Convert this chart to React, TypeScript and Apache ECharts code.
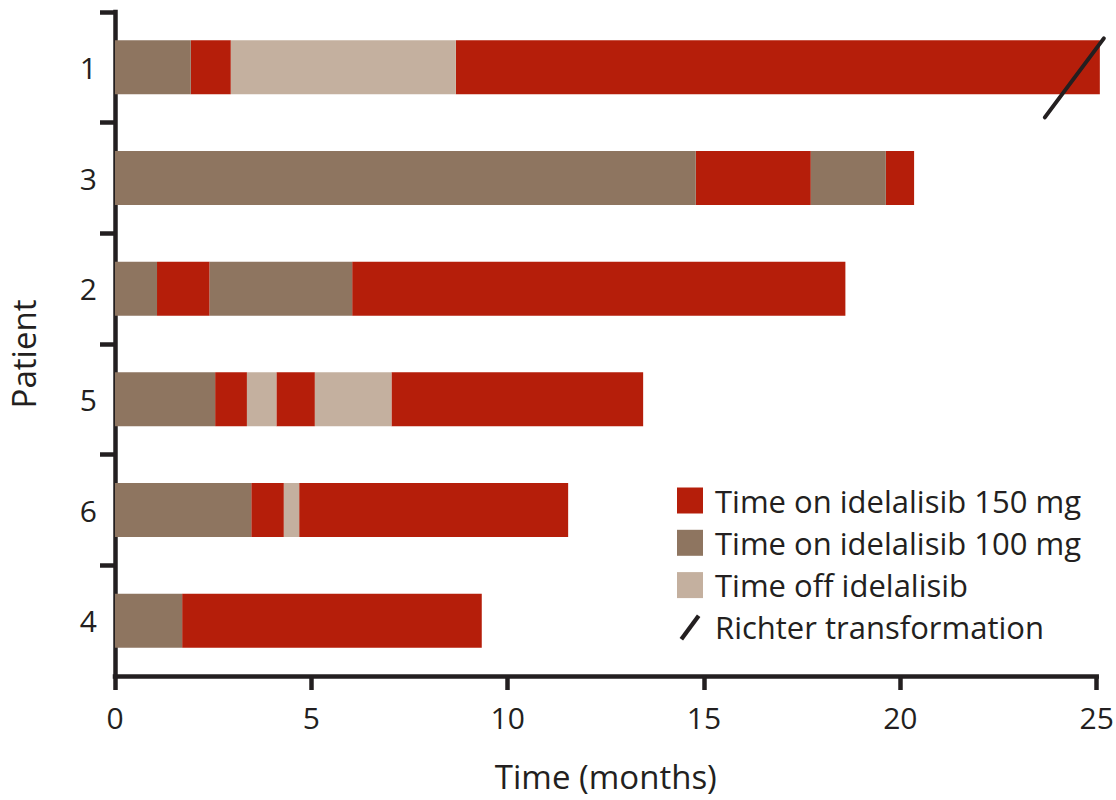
import React, { useEffect, useRef } from "react";
import * as echarts from "echarts";

// Patients from top to bottom
const patients = ["1", "3", "2", "5", "6", "4"];

// [patient, start month, end month]
const on150: [string, number, number][] = [
  ["1", 1.93, 2.95],
  ["1", 8.68, 25.08],
  ["3", 14.79, 17.72],
  ["3", 19.63, 20.35],
  ["2", 1.07, 2.41],
  ["2", 6.04, 18.6],
  ["5", 2.55, 3.36],
  ["5", 4.11, 5.09],
  ["5", 7.04, 13.45],
  ["6", 3.47, 4.3],
  ["6", 4.69, 11.54],
  ["4", 1.71, 9.34],
];

const on100: [string, number, number][] = [
  ["1", 0, 1.93],
  ["3", 0, 14.79],
  ["3", 17.72, 19.63],
  ["2", 0, 1.07],
  ["2", 2.41, 6.04],
  ["5", 0, 2.55],
  ["6", 0, 3.47],
  ["4", 0, 1.71],
];

const offDrug: [string, number, number][] = [
  ["1", 2.95, 8.68],
  ["5", 3.36, 4.11],
  ["5", 5.09, 7.04],
  ["6", 4.3, 4.69],
];

// [patient, month of Richter transformation]
const richter: [string, number][] = [["1", 25.08]];

const xTicks = [0, 5, 10, 15, 20, 25];

const seriesNames = [
  "Time on idelalisib 150 mg",
  "Time on idelalisib 100 mg",
  "Time off idelalisib",
  "Richter transformation",
];
const colors = ["#B51E0A", "#8E7560", "#C4B09F", "#231F20"];

const FONT = "Open Sans";
const INK = "#231F20";

function toRows(arr: [string, number, number][]) {
  return arr.map(([p, s, e]) => [patients.indexOf(p) + 0.5, s, e]);
}

function segSeries(name: string, color: string, data: number[][]) {
  return {
    type: "custom",
    name,
    itemStyle: { color },
    encode: { x: [1, 2], y: 0 },
    data,
    renderItem: (params: any, api: any) => {
      const row = api.value(0);
      const a = api.coord([api.value(1), row]);
      const b = api.coord([api.value(2), row]);
      const h = api.size([0, 1])[1] * 0.488;
      return {
        type: "rect",
        shape: { x: a[0], y: a[1] - h / 2, width: b[0] - a[0], height: h },
        style: { fill: color },
      };
    },
  };
}

export default function App() {
  const ref = useRef<HTMLDivElement>(null);
  useEffect(() => {
    if (!ref.current) return;
    const chart = echarts.init(ref.current, null, { renderer: "svg" });
    const option: any = {
      animation: false,
      backgroundColor: "#ffffff",
      textStyle: { fontFamily: FONT, color: INK },
      grid: {
        left: 115,
        right: 19.3,
        top: 12,
        height: 664,
        containLabel: false,
        outerBoundsMode: "none",
      },
      legend: {
        orient: "vertical",
        left: 677,
        top: 485,
        padding: 0,
        itemWidth: 26,
        itemHeight: 26,
        itemGap: 11.3,
        selectedMode: false,
        textStyle: {
          fontFamily: FONT,
          fontSize: 31,
          lineHeight: 26,
          color: INK,
          padding: [0, 0, 0, 7],
        },
        data: [
          { name: seriesNames[0], icon: "rect" },
          { name: seriesNames[1], icon: "rect" },
          { name: seriesNames[2], icon: "rect" },
          { name: seriesNames[3], icon: "path://M0.6,19 L14.6,0 L17.4,2 L3.4,21 Z" },
        ],
      },
      xAxis: {
        type: "value",
        position: "bottom",
        min: xTicks[0],
        max: xTicks[xTicks.length - 1],
        interval: 5,
        name: "Time (months)",
        nameLocation: "middle",
        nameGap: 84,
        nameTextStyle: { fontFamily: FONT, fontSize: 33, lineHeight: 33, color: INK },
        splitLine: { show: false },
        axisLine: { show: true, onZero: false, lineStyle: { color: INK, width: 4.5, cap: "square" } },
        axisTick: { show: true, length: 14, lineStyle: { color: INK, width: 4.5 } },
        axisLabel: { fontFamily: FONT, fontSize: 30, color: INK, margin: 26 },
      },
      yAxis: {
        type: "value",
        inverse: true,
        min: 0,
        max: patients.length,
        interval: 1,
        name: "Patient",
        nameLocation: "middle",
        nameGap: 75,
        nameRotate: 90,
        nameTextStyle: {
          fontFamily: FONT,
          fontSize: 33,
          color: INK,
          padding: [0, 20, 0, 0],
        },
        splitLine: { show: false },
        axisLine: { show: true, onZero: false, lineStyle: { color: INK, width: 4.5, cap: "square" } },
        axisTick: {
          show: true,
          length: 15,
          lineStyle: { color: INK, width: 4.5 },
          customValues: patients.map((_, i) => i),
        },
        axisLabel: {
          fontFamily: FONT,
          fontSize: 30,
          color: INK,
          margin: 18,
          customValues: patients.map((_, i) => i + 0.5),
          formatter: (v: number) => patients[Math.floor(v)] ?? "",
        },
      },
      series: [
        segSeries(seriesNames[0], colors[0], toRows(on150)),
        segSeries(seriesNames[1], colors[1], toRows(on100)),
        segSeries(seriesNames[2], colors[2], toRows(offDrug)),
        {
          type: "custom",
          name: seriesNames[3],
          itemStyle: { color: colors[3] },
          encode: { x: 1, y: 0 },
          data: richter.map(([p, t]) => [patients.indexOf(p) + 0.5, t]),
          renderItem: (params: any, api: any) => {
            const c = api.coord([api.value(1), api.value(0)]);
            return {
              type: "line",
              shape: { x1: c[0] - 55, y1: c[1] + 50, x2: c[0] + 4, y2: c[1] - 29 },
              style: { stroke: colors[3], lineWidth: 4, lineCap: "round" },
            };
          },
        },
      ],
    };
    chart.setOption(option);
    return () => chart.dispose();
  }, []);
  return (
    <div
      ref={ref}
      style={{ position: "fixed", left: 0, top: 0, width: 1116, height: 800, background: "#fff" }}
    />
  );
}
